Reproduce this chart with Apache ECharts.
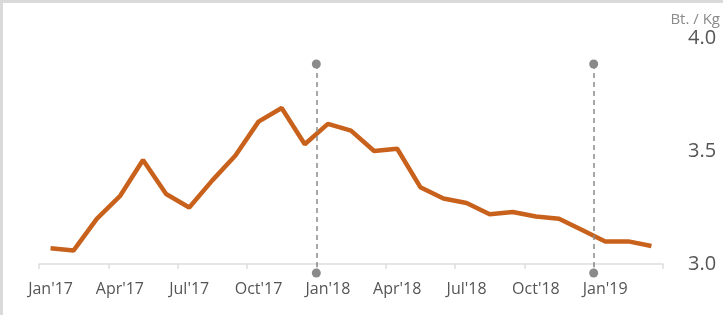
<!DOCTYPE html>
<html>
<head>
<meta charset="utf-8">
<script src="https://cdn.jsdelivr.net/npm/echarts@6/dist/echarts.min.js"></script>
<style>
    html, body { margin: 0; padding: 0; background: #fff; }
    #chart {
        position: absolute; left: 0; top: 0;
        width: 723px; height: 315px;
        box-sizing: border-box;
        border-left: 3px solid #dadada;
        border-top: 3px solid #dadada;
    }
</style>
</head>
<body>
<div id="chart"></div>
<script>
// 数据 ==========================================
const months = [
    "Jan'17", "Feb'17", "Mar'17", "Apr'17", "May'17", "Jun'17", "Jul'17", "Aug'17", "Sep'17",
    "Oct'17", "Nov'17", "Dec'17", "Jan'18", "Feb'18", "Mar'18", "Apr'18", "May'18", "Jun'18",
    "Jul'18", "Aug'18", "Sep'18", "Oct'18", "Nov'18", "Dec'18", "Jan'19", "Feb'19", "Mar'19"
];
const prices = [
    3.07, 3.06, 3.20, 3.30, 3.46, 3.31, 3.25, 3.37, 3.48,
    3.63, 3.69, 3.53, 3.62, 3.59, 3.50, 3.51, 3.34, 3.29,
    3.27, 3.22, 3.23, 3.21, 3.20, 3.15, 3.10, 3.10, 3.08
];
// 竖虚线位置（月份边界）
const dividerIndex = [12, 24];
const yTicks = [3.0, 3.5, 4.0];
const unitLabel = 'Bt. / Kg';

const FONT = '"Open Sans", sans-serif';

const chart = echarts.init(document.getElementById('chart'));

const option = {
    animation: false,
    grid: [
        { left: 36, right: 60, top: 35, bottom: 51 },
        // 虚线专用网格：上下端点比主网格更高/更低
        { left: 36, right: 60, top: 61, bottom: 42 }
    ],
    graphic: [{
        type: 'text',
        right: 3,
        top: 9,
        style: { text: unitLabel, fill: '#8a8a8a', font: '15px ' + FONT }
    }],
    xAxis: [{
        type: 'category',
        data: months,
        boundaryGap: true,
        axisLine: { lineStyle: { color: '#dedede', width: 1.5 } },
        axisTick: { show: true, interval: 2, length: 5, lineStyle: { color: '#dedede', width: 1.5 } },
        axisLabel: { interval: 2, color: '#555', fontSize: 16, fontFamily: FONT, margin: 17 }
    }, {
        type: 'value',
        gridIndex: 1,
        min: 0,
        max: months.length,
        show: false
    }],
    yAxis: [{
        type: 'value',
        position: 'right',
        min: yTicks[0],
        max: yTicks[yTicks.length - 1],
        interval: 0.5,
        splitLine: { show: false },
        axisLine: { show: false },
        axisTick: { show: false },
        axisLabel: {
            color: '#555', fontSize: 20, fontFamily: FONT, margin: 25,
            formatter: v => v.toFixed(1)
        }
    }, {
        type: 'value',
        gridIndex: 1,
        min: 0,
        max: 1,
        show: false
    }],
    series: [{
        type: 'line',
        data: prices,
        symbol: 'none',
        lineStyle: { color: '#c8611c', width: 4.5 },
        z: 3
    }, {
        // 隐藏的辅助系列，只用来挂竖虚线
        type: 'line',
        xAxisIndex: 1,
        yAxisIndex: 1,
        data: dividerIndex.map(i => [i, 1]),
        symbol: 'none',
        lineStyle: { opacity: 0 },
        silent: true,
        z: 2,
        markLine: {
            silent: true,
            symbol: ['circle', 'circle'],
            symbolSize: 9,
            label: { show: false },
            lineStyle: { color: '#8a8a8a', type: [5, 4], width: 1.5 },
            itemStyle: { color: '#8a8a8a' },
            data: dividerIndex.map(i => [
                { coord: [i, 1] },
                { coord: [i, 0] }
            ])
        }
    }]
};
chart.setOption(option);
</script>
</body>
</html>
